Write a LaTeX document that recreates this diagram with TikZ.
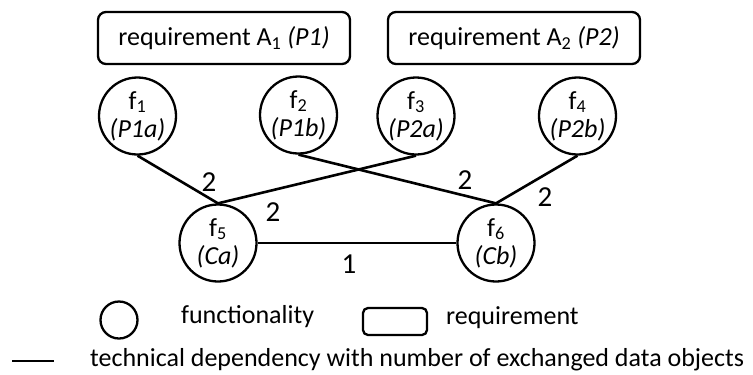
\documentclass[tikz,border=0pt]{standalone}
\usepackage{fontspec}
\setmainfont{Carlito}
\begin{document}
\begin{tikzpicture}[x=1bp,y=-1bp,
  line width=2.3bp,
  txt/.style={font=\fontsize{26bp}{28bp}\selectfont},
  func/.style={draw, circle, minimum size=77bp, inner sep=0pt, align=center,
    font=\fontsize{26bp}{28bp}\selectfont},
  req/.style={draw, rounded corners=8bp, minimum width=252bp, minimum height=52bp,
    inner sep=0pt, font=\fontsize{26bp}{28bp}\selectfont},
  num/.style={inner sep=0pt, font=\fontsize{29bp}{30bp}\selectfont},
  dep/.style={line width=2.6bp}
]
\useasboundingbox (0,0) rectangle (753,374);

% requirements
\node[req] (A1) at (224,38) {requirement A\textsubscript{1} \textit{(P1)}};
\node[req] (A2) at (514,38) {requirement A\textsubscript{2} \textit{(P2)}};

% functionalities
\node[func] (f1) at (137.5,116) {f\textsubscript{1}\\\textit{(P1a)}};
\node[func] (f2) at (298.5,115) {f\textsubscript{2}\\\textit{(P1b)}};
\node[func] (f3) at (416,116) {f\textsubscript{3}\\\textit{(P2a)}};
\node[func] (f4) at (577.5,116) {f\textsubscript{4}\\\textit{(P2b)}};
\node[func] (f5) at (218,243) {f\textsubscript{5}\\\textit{(Ca)}};
\node[func] (f6) at (496,243) {f\textsubscript{6}\\\textit{(Cb)}};

% technical dependencies
\draw[dep] (f1.south) -- (f5.north);
\draw[dep] (f3.south) -- (f5.north);
\draw[dep] (f2.south) -- (f6.north);
\draw[dep] (f4.south) -- (f6.north);
\draw[dep] (f5) -- (f6);

% numbers of exchanged data objects
\node[num] (n15) at (209,182) {2};
\node[num] (n35) at (273,212) {2};
\node[num] (n26) at (465,180) {2};
\node[num] (n46) at (545,197) {2};
\node[num] (n56) at (349,264) {1};

% legend
\node[draw, circle, minimum size=37bp, inner sep=0pt] (lf) at (119,320) {};
\node[txt, anchor=base west, inner sep=0pt] (lft) at (180,323) {functionality};
\node[draw, rounded corners=5bp, minimum width=64bp, minimum height=27bp, inner sep=0pt] (lr) at (395,321.5) {};
\node[txt, anchor=base west, inner sep=0pt] (lrt) at (445,324) {requirement};
\coordinate (l1) at (12,361);
\coordinate (l2) at (54,361);
\draw[dep] (l1) -- (l2);
\node[txt, anchor=base west, inner sep=0pt] (ldt) at (89,366) {technical dependency with number of exchanged data objects};
\end{tikzpicture}
\end{document}
